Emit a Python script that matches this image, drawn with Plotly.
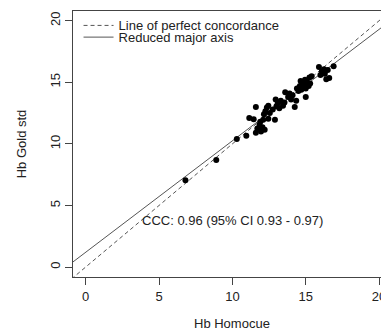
import plotly.graph_objects as go

# ---- data ----
hb_homocue = [6.8, 8.9, 10.3, 10.95, 11.15, 11.45, 11.6, 11.6, 11.7, 11.85,
              11.9, 12.05, 12.1, 12.15, 12.25, 12.35, 12.45, 12.55, 12.45, 12.75,
              12.9, 13.0, 13.1, 13.2, 13.3, 13.45, 13.55, 13.6, 13.8, 14.0,
              14.1, 14.25, 14.35, 14.4, 14.5, 14.6, 14.65, 14.7, 14.8, 14.9,
              15.0, 15.0, 15.1, 15.2, 15.25, 15.3, 15.4, 14.95, 14.8, 15.9,
              16.0, 16.1, 16.3, 16.4, 16.5, 16.6, 16.9, 16.25, 13.9, 12.95,
              14.55, 15.05, 12.2, 11.95]
hb_gold = [7.05, 8.7, 10.4, 10.65, 12.1, 12.0, 13.0, 10.9, 11.25, 11.55,
           11.8, 11.35, 11.95, 12.4, 12.65, 12.95, 13.1, 12.5, 12.05, 12.8,
           11.95, 13.05, 13.3, 12.9, 13.5, 13.1, 13.35, 14.2, 13.8, 13.6,
           13.95, 13.0, 13.5, 14.5, 14.3, 14.7, 15.1, 14.4, 14.6, 14.9,
           13.8, 14.5, 15.0, 14.7, 15.4, 14.9, 15.5, 15.2, 15.0, 16.25,
           15.6, 15.9, 15.7, 15.25, 16.0, 15.35, 16.3, 16.05, 14.1, 13.6,
           14.55, 14.7, 11.15, 11.0]

rma_intercept = 1.2
rma_slope = 0.905
tick_vals = [0, 5, 10, 15, 20]
tick_text = ["0", "5", "10", "15", "20"]
legend_labels = ["Line of perfect concordance", "Reduced major axis"]
ccc_label = "CCC: 0.96 (95% CI 0.93 - 0.97)"
x_title = "Hb Homocue"
y_title = "Hb Gold std"

x_range = [-0.866, 20.13]
y_range = [-0.81, 20.79]

FONT = "Liberation Sans, Arial, sans-serif"
TXT = "#222222"
LINE = "#444444"

line_x = [-5, 30]
fig = go.Figure()

fig.add_trace(go.Scatter(
    x=line_x, y=line_x, mode="lines",
    line=dict(color="#555555", width=1, dash="4px,3px"),
    name=legend_labels[0], legend="legend", showlegend=True,
))
fig.add_trace(go.Scatter(
    x=line_x, y=[rma_intercept + rma_slope * v for v in line_x], mode="lines",
    line=dict(color="#555555", width=1),
    name=legend_labels[1], legend="legend2", showlegend=True,
))
fig.add_trace(go.Scatter(
    x=hb_homocue, y=hb_gold, mode="markers",
    marker=dict(color="black", size=6, line=dict(width=0)),
    showlegend=False,
))

fig.add_annotation(
    x=10, y=3.8, xref="x", yref="y", text=ccc_label, showarrow=False,
    font=dict(family=FONT, size=13, color=TXT), xanchor="center", yanchor="middle",
)
fig.add_annotation(
    x=10, y=0, xref="x", yref="paper", text=x_title, showarrow=False,
    font=dict(family=FONT, size=13, color=TXT), xanchor="center", yanchor="middle",
    yshift=-46,
)

axis_common = dict(
    showgrid=False, zeroline=False, showline=True, linecolor=LINE, linewidth=1,
    ticks="outside", ticklen=7, tickcolor=LINE, tickwidth=1,
    tickvals=tick_vals, ticktext=tick_text, ticklabeloverflow="allow",
    tickfont=dict(family=FONT, size=13, color=TXT), automargin=False,
)

fig.update_layout(
    width=381, height=330,
    margin=dict(l=73, r=0, t=11, b=53),
    paper_bgcolor="white", plot_bgcolor="white",
    font=dict(family=FONT, size=13, color=TXT),
    xaxis=dict(range=x_range, mirror=True, **axis_common),
    yaxis=dict(range=y_range, tickangle=-90, mirror=False,
               title=dict(text=y_title, standoff=18, font=dict(family=FONT, size=13, color=TXT)),
               **axis_common),
    legend=dict(x=0.018, y=1.002, xanchor="left", yanchor="top", bgcolor="rgba(0,0,0,0)",
                borderwidth=0, font=dict(family=FONT, size=13, color=TXT)),
    legend2=dict(x=0.018, y=0.958, xanchor="left", yanchor="top", bgcolor="rgba(0,0,0,0)",
                 borderwidth=0, font=dict(family=FONT, size=13, color=TXT)),
)

fig.write_html(
    "out.html",
    config={"displayModeBar": False},
    post_script="document.body.style.margin='0';document.body.style.overflow='hidden';",
)
